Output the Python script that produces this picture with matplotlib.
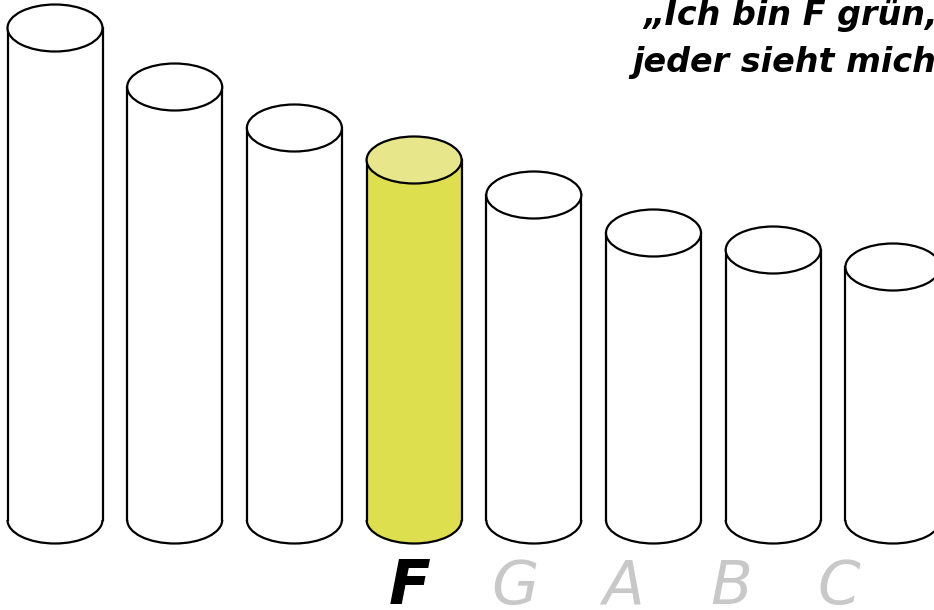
import matplotlib.pyplot as plt
from matplotlib.patches import Rectangle, Ellipse, Arc

# tube lengths (same units as the canvas), C D E F G A B C
notes = ["C", "D", "E", "F", "G", "A", "B", "C"]
tube_lengths = [492, 433, 392, 360, 325, 287, 270, 253]
labels = ["", "", "", "F", "G", "A", "B", "C"]
highlight = "F"

quote_lines = ["\u201eIch bin F gr\u00fcn,", "jeder sieht mich!\u201c"]

W, H = 934, 610
base_y = 90
first_x = 55
spacing = 119.7
tube_w = 95
cap_h = 47

fig = plt.figure(figsize=(W / 100, H / 100), dpi=100)
ax = fig.add_axes([0, 0, 1, 1])
ax.set_xlim(0, W)
ax.set_ylim(0, H)
ax.axis("off")

lw = 1.6
for i, (note, length) in enumerate(zip(labels, tube_lengths)):
    cx = first_x + i * spacing
    top_y = base_y + length
    if note == highlight:
        body, cap = "#dedf4e", "#e7e68a"
    else:
        body, cap = "white", "white"

    ax.add_patch(Rectangle((cx - tube_w / 2, base_y), tube_w, length,
                           facecolor=body, edgecolor="none", zorder=1))
    ax.add_patch(Ellipse((cx, base_y), tube_w, cap_h,
                         facecolor=body, edgecolor="none", zorder=1))
    ax.add_patch(Arc((cx, base_y), tube_w, cap_h, theta1=180, theta2=360,
                     color="black", lw=lw, zorder=2))
    ax.plot([cx - tube_w / 2] * 2, [base_y, top_y], color="black", lw=lw, zorder=2)
    ax.plot([cx + tube_w / 2] * 2, [base_y, top_y], color="black", lw=lw, zorder=2)
    ax.add_patch(Ellipse((cx, top_y), tube_w, cap_h,
                         facecolor=cap, edgecolor="black", lw=lw, zorder=3))

# note names under the tubes (drawn a bit tighter than the tubes)
label_start = labels.index(highlight)
label_x0 = first_x + label_start * spacing - 5
label_step = 108
for k, note in enumerate(labels[label_start:]):
    is_hl = note == highlight
    ax.text(label_x0 + k * label_step - (2 if k else 0), 6, note,
            ha="center", va="baseline",
            fontsize=44, style="italic",
            fontweight="bold" if is_hl else "normal",
            color="black" if is_hl else "#c8c8c8")

ax.text(643, 585, quote_lines[0], fontsize=24, style="italic",
        fontweight="bold", ha="left", va="baseline")
ax.text(632, 538, quote_lines[1], fontsize=24, style="italic",
        fontweight="bold", ha="left", va="baseline")

fig.savefig("out.png", dpi=100)
